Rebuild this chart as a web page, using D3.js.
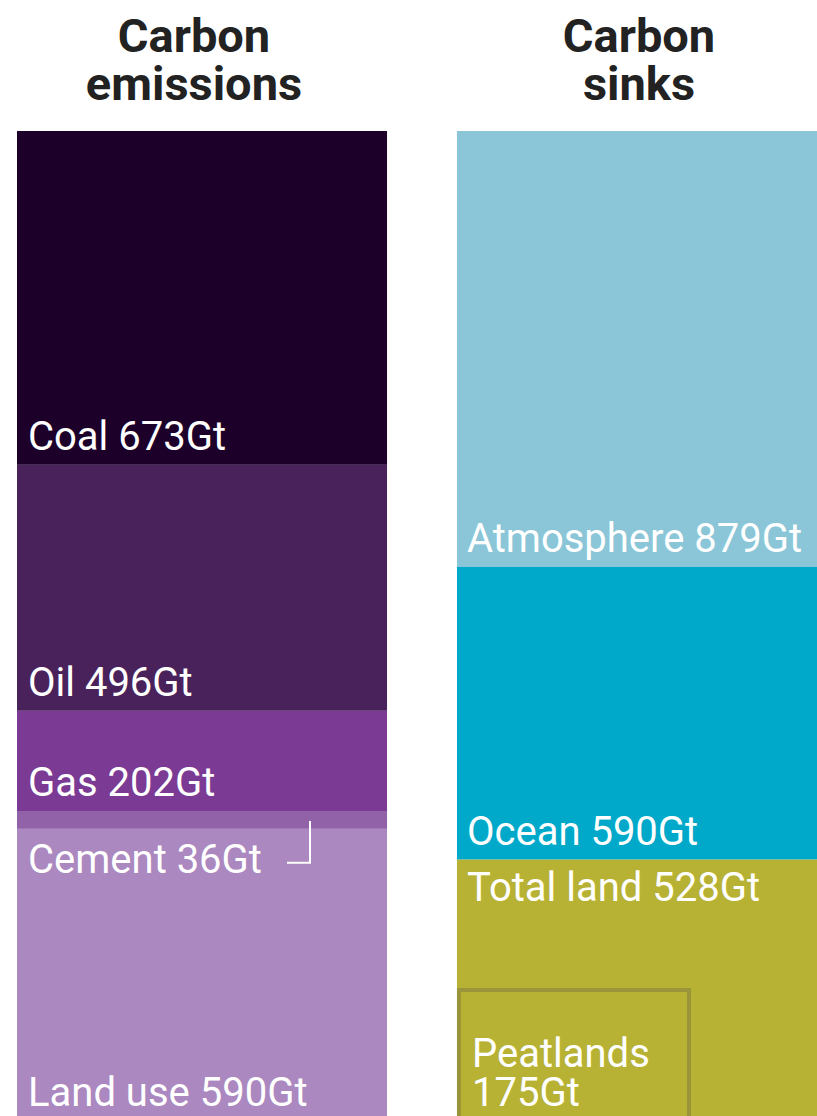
<!DOCTYPE html>
<html>
<head>
<meta charset="utf-8">
<script src="https://cdn.jsdelivr.net/npm/d3@7/dist/d3.min.js"></script>
<style>
  html, body { margin: 0; padding: 0; background: #ffffff; overflow: hidden; }
  svg { display: block; }
</style>
</head>
<body>
<svg id="chart" width="817" height="1116"></svg>
<script>
// ---- DATA ----
const emissionCategories = ["Coal", "Oil", "Gas", "Cement", "Land use"];
const emissionValues = [673, 496, 202, 36, 590];
const emissionColors = ["#1c0029", "#4a225b", "#7b3a93", "#9262a8", "#ab88bf"];

const sinkCategories = ["Atmosphere", "Ocean", "Total land"];
const sinkValues = [879, 590, 528];
const sinkColors = ["#8ac6d7", "#00a9c9", "#b8b234"];

const subCategory = "Peatlands";
const subValue = 175;

const columnTitles = [["Carbon", "emissions"], ["Carbon", "sinks"]];
const unit = "Gt";

// ---- LAYOUT ----
const W = 817;
const svg = d3.select("#chart");
const total = d3.sum(emissionValues);

const y = d3.scaleLinear().domain([0, total]).range([131, 131 + total * 0.496]);
const x = d3.scaleBand().domain(["emissions", "sinks"]).range([17, 827]).paddingInner(0.159).paddingOuter(0);

function stack(values) {
  let acc = 0;
  return values.map(v => { const s = acc; acc += v; return [s, acc]; });
}

const labelFont = "Roboto, 'Open Sans', sans-serif";
const labelSize = 40;

function drawColumn(key, cats, vals, cols) {
  const g = svg.append("g");
  const st = stack(vals);
  const x0 = x(key), bw = x.bandwidth();
  const data = cats.map((c, i) => ({ c, v: vals[i], y0: st[i][0], y1: st[i][1], col: cols[i] }));
  g.selectAll("rect").data(data).enter().append("rect")
    .attr("x", x0).attr("width", bw)
    .attr("y", d => y(d.y0)).attr("height", d => y(d.y1) - y(d.y0))
    .attr("fill", d => d.col);
  return { g, data, x0, bw };
}

const left = drawColumn("emissions", emissionCategories, emissionValues, emissionColors);
const right = drawColumn("sinks", sinkCategories, sinkValues, sinkColors);

// Peatlands sub-rectangle (area proportional within Total land)
const land = right.data[2];
const landTop = y(land.y0), landBottom = y(land.y1);
const visibleW = W - right.x0;
const landArea = visibleW * (landBottom - landTop);
const peatArea = landArea * subValue / land.v;
const peatW = visibleW * 0.65;
const peatH = peatArea / peatW;
const sw = 4;
right.g.append("rect")
  .attr("x", right.x0 + sw / 2)
  .attr("y", landBottom - peatH + sw / 2)
  .attr("width", peatW - sw)
  .attr("height", peatH + 20)
  .attr("fill", "none")
  .attr("stroke", "#9a953a")
  .attr("stroke-width", sw);

// Titles
columnTitles.forEach((lines, i) => {
  const key = x.domain()[i];
  const cx = i === 0 ? x(key) + x.bandwidth() / 2 - 8 : (x(key) + W) / 2 + 2;
  const t = svg.append("text")
    .attr("x", cx).attr("y", 52)
    .attr("text-anchor", "middle")
    .attr("font-family", labelFont)
    .attr("font-weight", 700)
    .attr("font-size", 47)
    .attr("fill", "#222222");
  lines.forEach((ln, j) => {
    t.append("tspan").attr("x", cx).attr("dy", j === 0 ? 0 : 48).text(ln);
  });
});

function label(g, xx, yy, txt) {
  return g.append("text")
    .attr("x", xx).attr("y", yy)
    .attr("font-family", labelFont)
    .attr("font-weight", 400)
    .attr("font-size", labelSize)
    .attr("fill", "#ffffff")
    .text(txt);
}

const pad = 11;
const bottomOffset = 15;

// Emission labels
left.data.forEach(d => {
  if (d.c === "Cement") {
    const by = y(d.y1) + 44;
    label(left.g, left.x0 + pad, by, d.c + " " + d.v + unit);
    // bracket line pointing to the thin cement segment
    const midY = (y(d.y0) + y(d.y1)) / 2 + 1;
    const lx = left.x0 + 293;
    left.g.append("path")
      .attr("d", `M${lx},${midY} V${by - 10} H${lx - 23}`)
      .attr("fill", "none").attr("stroke", "#ffffff").attr("stroke-width", 2);
  } else {
    label(left.g, left.x0 + pad, Math.min(y(d.y1), 1121) - bottomOffset, d.c + " " + d.v + unit);
  }
});

// Sink labels
right.data.forEach(d => {
  if (d.c === "Total land") {
    label(right.g, right.x0 + 10, y(d.y0) + 41, d.c + " " + d.v + unit);
  } else {
    label(right.g, right.x0 + 10, y(d.y1) - bottomOffset, d.c + " " + d.v + unit);
  }
});

// Peatlands label (two lines)
const pt = right.g.append("text")
  .attr("font-family", labelFont)
  .attr("font-weight", 400)
  .attr("font-size", labelSize)
  .attr("fill", "#ffffff");
pt.append("tspan").attr("x", right.x0 + 15).attr("y", landBottom - 16 - 39).text(subCategory);
pt.append("tspan").attr("x", right.x0 + 15).attr("y", landBottom - 16).text(subValue + unit);
</script>
</body>
</html>
